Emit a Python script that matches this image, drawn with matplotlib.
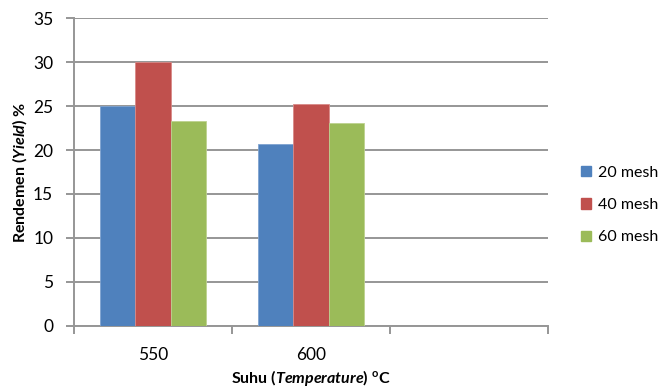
import numpy as np
import matplotlib
matplotlib.use("Agg")
import matplotlib.pyplot as plt
from matplotlib.patches import Patch

plt.rcParams['font.family'] = ['Lato', 'DejaVu Sans']
plt.rcParams['mathtext.fontset'] = 'custom'
plt.rcParams['mathtext.rm'] = 'Lato:bold'
plt.rcParams['mathtext.it'] = 'Lato:bold:italic'
plt.rcParams['mathtext.bf'] = 'Lato:bold'

# temperatures (third slot left empty on the axis)
categories = ['550', '600', '']
series = ['20 mesh', '40 mesh', '60 mesh']
mesh20 = [25.0, 20.7]
mesh40 = [30.0, 25.2]
mesh60 = [23.3, 23.1]
colors = ['#4F81BD', '#C0504D', '#9BBB59']
edges = ['#7FA3D0', '#D88A88', '#BDD28F']

fig = plt.figure(figsize=(6.61, 3.87), dpi=100)
ax = fig.add_axes([0.112, 0.158, 0.717, 0.795])

grid_c = '#969696'
w = 0.222
x = np.arange(len(mesh20))
for i, vals in enumerate([mesh20, mesh40, mesh60]):
    ax.bar(x + (i - 1) * w, vals, width=w, color=colors[i],
           edgecolor=edges[i], linewidth=0.6, zorder=3)

ax.set_xlim(-0.5, len(categories) - 0.5)
ax.set_ylim(0, 35)
ax.set_yticks(np.arange(0, 36, 5))
ax.yaxis.grid(True, color=grid_c, linewidth=1.4, zorder=0)
ax.set_axisbelow(True)

ax.set_xticks(np.arange(len(categories)))
ax.set_xticklabels(categories)
ax.set_xticks(np.arange(len(categories) + 1) - 0.5, minor=True)
ax.tick_params(axis='x', which='major', length=0, pad=15, labelsize=12.5)
ax.tick_params(axis='x', which='minor', length=6, width=1.4, color=grid_c)
ax.tick_params(axis='y', length=6, width=1.4, color=grid_c, labelsize=12.5, pad=9)

for s in ['top', 'right']:
    ax.spines[s].set_visible(False)
for s in ['left', 'bottom']:
    ax.spines[s].set_color(grid_c)
    ax.spines[s].set_linewidth(1.4)

ax.set_ylabel(r'Rendemen ($\mathit{Yield}$) %', fontsize=11.5,
              fontweight='bold', labelpad=3)
ax.set_xlabel(r'Suhu ($\mathit{Temperature}$) $^{\mathrm{o}}$C', fontsize=11.5,
              fontweight='bold', labelpad=4)

handles = [Patch(facecolor=c, edgecolor=c) for c in colors]
fig.legend(handles, series, loc='center left', bbox_to_anchor=(0.862, 0.47),
           frameon=False, fontsize=11.5, handlelength=0.65, handleheight=0.65,
           handletextpad=0.4, labelspacing=1.15, borderpad=0.2)

fig.savefig('out.png', dpi=100)
